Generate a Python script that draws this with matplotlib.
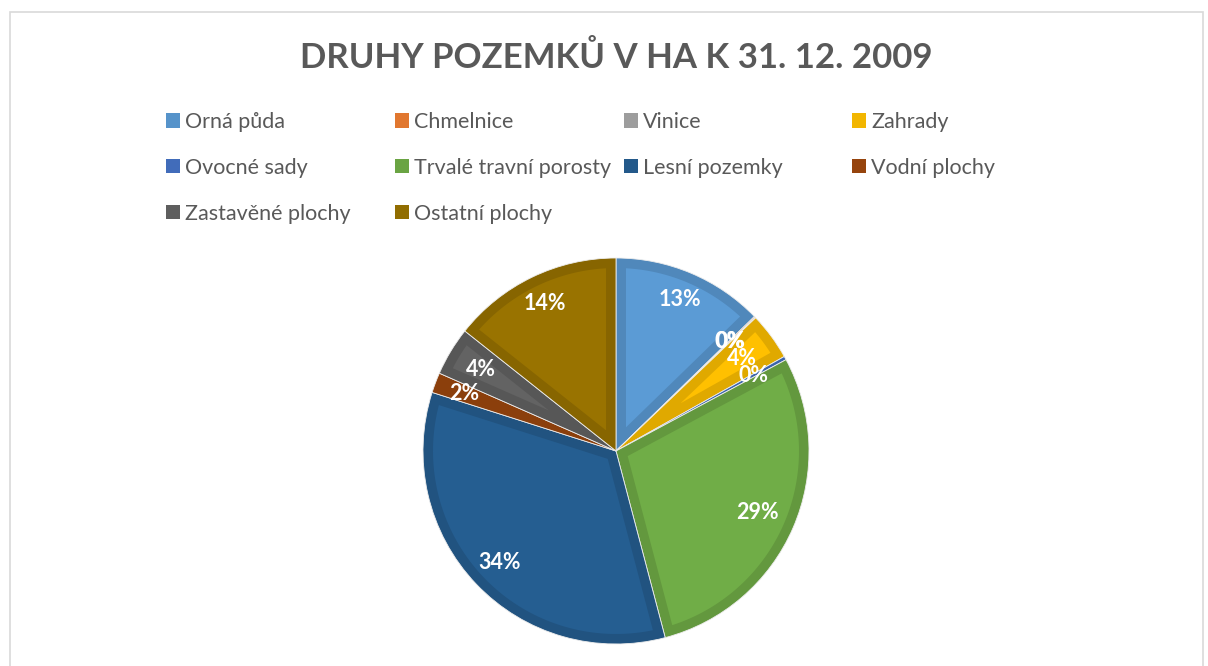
import matplotlib
matplotlib.use("Agg")
import matplotlib.pyplot as plt
from matplotlib.patches import Patch, Rectangle, Polygon
import numpy as np

# data: land types in ha (shares)
categories = ["Orná půda", "Chmelnice", "Vinice", "Zahrady", "Ovocné sady",
              "Trvalé travní porosty", "Lesní pozemky", "Vodní plochy",
              "Zastavěné plochy", "Ostatní plochy"]
values = [12.8, 0.1, 0.05, 4.0, 0.3, 28.9, 34.2, 1.7, 4.1, 14.4]
colors = ["#5B9BD5", "#ED7D31", "#A5A5A5", "#FFC000", "#4472C4",
          "#70AD47", "#255E91", "#9E480E", "#636363", "#997300"]
title = "DRUHY POZEMKŮ V HA K 31. 12. 2009"

# radial position of each percentage label (fraction of radius)
label_r = [0.85, 0.82, 0.82, 0.81, 0.81, 0.80, 0.835, 0.84, 0.82, 0.85]

plt.rcParams['font.family'] = ['Lato', 'DejaVu Sans']
W, H = 1208, 666
fig = plt.figure(figsize=(W / 100, H / 100), dpi=100)

def darker(c, f=0.88):
    r, g, b = matplotlib.colors.to_rgb(c)
    return (r * f, g * f, b * f)

def inset_points(t1, t2, d, R=1.0):
    # wedge shrunk inward by d (the lighter inner part of an Excel slice)
    half = np.deg2rad(t2 - t1) / 2
    delta = np.arcsin(d / (R - d))
    if half <= delta:
        return None
    a = np.linspace(np.deg2rad(t1) + delta, np.deg2rad(t2) - delta, 80)
    arc = np.column_stack([(R - d) * np.cos(a), (R - d) * np.sin(a)])
    mid = np.deg2rad(t1) + half
    ra = d / np.sin(half)
    apex = [[ra * np.cos(mid), ra * np.sin(mid)]]
    return np.vstack([apex, arc])

# chart frame
fig.patches.append(Rectangle((10 / W, -0.05), (1203 - 10) / W, 1.05 - 12 / H,
                             transform=fig.transFigure, fill=False,
                             edgecolor="#D9D9D9", linewidth=1.2))

fig.text(616 / W, 1 - 57 / H, title, ha="center", va="center",
         fontsize=25, fontweight="bold", color="#595959")

# legend, one column at a time
cols = [[0, 4, 8], [1, 5, 9], [2, 6], [3, 7]]
col_x = [166, 395, 624, 852]
for x, idx in zip(col_x, cols):
    handles = [Patch(facecolor=darker(colors[i], 0.95), edgecolor="none",
                     label=categories[i]) for i in idx]
    leg = fig.legend(handles=handles, loc="upper left",
                     bbox_to_anchor=(x / W, 1 - 112 / H), frameon=False,
                     fontsize=15.5, handlelength=0.65, handleheight=0.65,
                     handletextpad=0.25, labelspacing=1.2, borderpad=0,
                     borderaxespad=0)
    for t in leg.get_texts():
        t.set_color("#595959")

# pie
cx, cy, R = 616, 451, 193
ax = fig.add_axes([(cx - R) / W, (H - cy - R) / H, 2 * R / W, 2 * R / H])
dark = [darker(c) for c in colors]
wedges, texts, autotexts = ax.pie(values, colors=dark, startangle=90,
                                  counterclock=False, radius=1,
                                  autopct=lambda p: f"{p:.0f}%",
                                  pctdistance=0.83,
                                  wedgeprops=dict(edgecolor="#EDEDED",
                                                  linewidth=0.6))
for w, c in zip(wedges, colors):
    pts = inset_points(w.theta1, w.theta2, 10 / R)
    if pts is not None:
        ax.add_patch(Polygon(pts, closed=True, facecolor=c, edgecolor="none",
                             zorder=w.get_zorder() + 0.1))

for w, t, r in zip(wedges, autotexts, label_r):
    th = np.deg2rad((w.theta1 + w.theta2) / 2)
    t.set_position((r * np.cos(th), r * np.sin(th)))
    t.set_color("white")
    t.set_fontsize(15.5)
    t.set_fontweight("bold")
    t.set_zorder(10)

ax.set_xlim(-1, 1)
ax.set_ylim(-1, 1)
ax.set_aspect("equal")
ax.axis("off")

fig.savefig("out.png", dpi=100, facecolor="white")
